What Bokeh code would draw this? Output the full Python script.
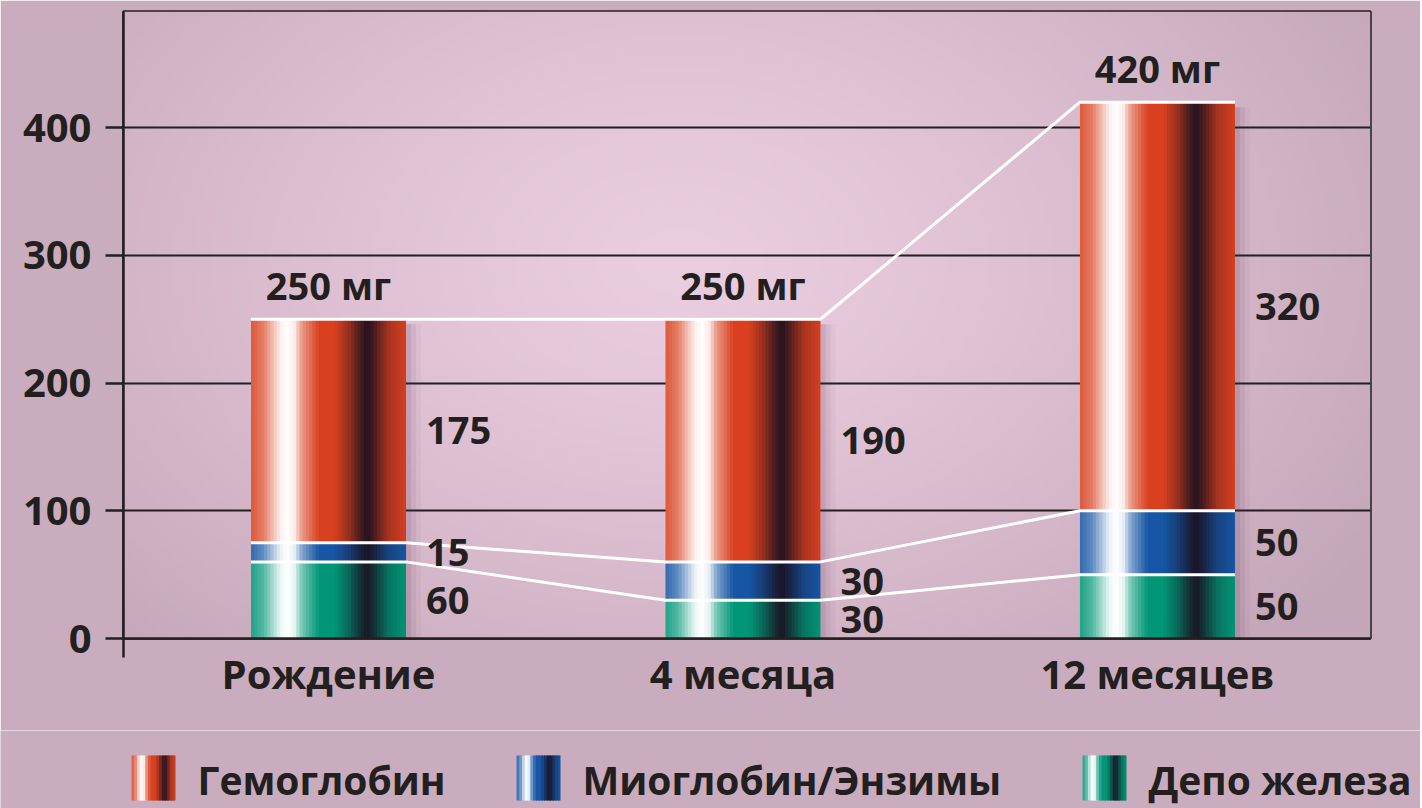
import numpy as np
from bokeh.plotting import figure
from bokeh.models import Range1d, FixedTicker, ColumnDataSource
from bokeh.layouts import column, row
from bokeh.core.properties import value
from bokeh.embed import file_html
from bokeh.resources import INLINE

# ---------------- data ----------------
categories = ["Рождение", "4 месяца", "12 месяцев"]
depot = [60, 30, 50]          # Депо железа
myoglobin = [15, 30, 50]      # Миоглобин/Энзимы
hemoglobin = [175, 190, 320]  # Гемоглобин
y_ticks = [0, 100, 200, 300, 400]
series_names = ["Гемоглобин", "Миоглобин/Энзимы", "Депо железа"]
unit = "мг"

# ---------------- style ----------------
INK = "#231f20"
FONT = "Open Sans"
BG = "#c9adbe"
BASES = {"hemo": "#d8401f", "myo": "#1656a4", "depot": "#019677"}
DARK = (26, 16, 32)

W = 1420
H_MAIN = 730
H_LEG = 78
FR_L, FR_R, FR_T, FR_B = 123, 1370, 11, 638   # frame edges in canvas px
X0, X1 = -0.4946, 2.514
Y0, Y1 = 0, 491
BAR_W = 0.374
N = 48

STOPS = [(0.0, 0.12), (0.08, 0.32), (0.19, 0.92), (0.235, 1.0), (0.28, 0.9),
         (0.33, 0.45), (0.44, 0.0), (0.54, 0.0), (0.63, -0.35), (0.71, -0.78),
         (0.75, -0.95), (0.80, -0.72), (0.89, -0.25), (1.0, -0.02)]


def hex2rgb(h):
    h = h.lstrip("#")
    return tuple(int(h[i:i + 2], 16) for i in (0, 2, 4))


def shade(base, t):
    ts = [s[0] for s in STOPS]
    a = float(np.interp(t, ts, [s[1] for s in STOPS]))
    r, g, b = hex2rgb(base)
    if a >= 0:
        c = (r + a * (255 - r), g + a * (255 - g), b + a * (255 - b))
    else:
        a = -a
        c = (r + a * (DARK[0] - r), g + a * (DARK[1] - g), b + a * (DARK[2] - b))
    return "#%02x%02x%02x" % tuple(int(round(v)) for v in c)


# ---------------- stacks ----------------
n = len(categories)
xs = list(range(n))
depot_top = [d for d in depot]
myo_top = [d + m for d, m in zip(depot, myoglobin)]
totals = [d + m + h for d, m, h in zip(depot, myoglobin, hemoglobin)]
segments = [("depot", [0] * n, depot_top, depot),
            ("myo", depot_top, myo_top, myoglobin),
            ("hemo", myo_top, totals, hemoglobin)]

stripes = dict(left=[], right=[], bottom=[], top=[], color=[])
sw = BAR_W / N
for key, bots, tops, _ in segments:
    for i in xs:
        for k in range(N):
            l = i - BAR_W / 2 + k * sw
            r = l + sw * (1.6 if k < N - 1 else 1.0)
            stripes["left"].append(l)
            stripes["right"].append(r)
            stripes["bottom"].append(bots[i])
            stripes["top"].append(tops[i])
            stripes["color"].append(shade(BASES[key], (k + 0.5) / N))

# ---------------- main figure ----------------
p = figure(width=W, height=H_MAIN, x_range=Range1d(X0, X1), y_range=Range1d(Y0, Y1),
           output_backend="svg", toolbar_location=None,
           min_border_left=FR_L, min_border_right=W - FR_R, min_border_top=FR_T,
           min_border_bottom=H_MAIN - FR_B)
p.border_fill_color = BG
p.outline_line_color = INK
p.outline_line_width = 2.5

# background gradient inside the frame
nx, ny = 300, 150
gx = np.linspace(FR_L, FR_R, nx)
gy = np.linspace(FR_B, FR_T, ny)  # row 0 = bottom
GX, GY = np.meshgrid(gx, gy)
d = np.sqrt(((GX - 680) / 820.0) ** 2 + ((GY - 260) / 560.0) ** 2)
d = np.clip(d, 0, 1) ** 1.3
c_in = np.array(hex2rgb("#ebcde0"), dtype=float)
c_out = np.array(hex2rgb("#c3a6b7"), dtype=float)
img = np.empty((ny, nx), dtype=np.uint32)
view = img.view(dtype=np.uint8).reshape((ny, nx, 4))
for ch in range(3):
    view[:, :, ch] = (c_in[ch] + (c_out[ch] - c_in[ch]) * d).astype(np.uint8)
view[:, :, 3] = 255
p.image_rgba(image=[img], x=X0, y=Y0, dw=X1 - X0, dh=Y1 - Y0, level="image")

p.xgrid.visible = False
p.ygrid.ticker = FixedTicker(ticks=y_ticks)
p.ygrid.grid_line_color = INK
p.ygrid.grid_line_width = 2

# soft shadow to the right of bars
for j, alpha in enumerate([0.10, 0.07, 0.04]):
    p.quad(left=[i + BAR_W / 2 for i in xs],
           right=[i + BAR_W / 2 + 0.012 * (j + 1) for i in xs],
           bottom=[0] * n, top=[t - 4 for t in totals],
           fill_color="#5a3050", fill_alpha=alpha, line_color=None)

src = ColumnDataSource(stripes)
p.quad(left="left", right="right", bottom="bottom", top="top",
       fill_color="color", line_color=None, source=src)

# white connector lines across stack boundaries
for level in (depot_top, myo_top, totals):
    lx, ly = [], []
    for i in xs:
        lx += [i - BAR_W / 2, i + BAR_W / 2]
        ly += [level[i], level[i]]
    p.line(lx, ly, line_color="white", line_width=3)

# segment value labels
lab_x, lab_y, lab_t = [], [], []
for key, bots, tops, vals in segments:
    for i in xs:
        lab_x.append(i + BAR_W / 2)
        lab_y.append((bots[i] + tops[i]) / 2)
        lab_t.append(str(vals[i]))
p.text(x=lab_x, y=lab_y, text=lab_t, x_offset=20,
       text_font=value(FONT), text_font_style="bold", text_font_size="38px",
       text_color=INK, text_align="left", text_baseline="middle")

# total labels
p.text(x=xs, y=totals, text=[f"{t} {unit}" for t in totals], y_offset=-8,
       text_font=value(FONT), text_font_style="bold", text_font_size="38px",
       text_color=INK, text_align="center", text_baseline="bottom")

# axes
p.yaxis.ticker = FixedTicker(ticks=y_ticks)
p.yaxis.axis_line_color = INK
p.yaxis.axis_line_width = 2.5
p.yaxis.major_tick_out = 18
p.yaxis.major_tick_in = 0
p.yaxis.major_tick_line_color = INK
p.yaxis.major_tick_line_width = 2.5
p.yaxis.minor_tick_line_color = None
p.yaxis.major_label_standoff = 14
p.yaxis.major_label_text_font = FONT
p.yaxis.major_label_text_font_style = "bold"
p.yaxis.major_label_text_font_size = "40px"
p.yaxis.major_label_text_color = INK

p.xaxis.ticker = FixedTicker(ticks=xs, minor_ticks=[X0])
p.xaxis.major_label_overrides = {i: c for i, c in zip(xs, categories)}
p.xaxis.axis_line_color = INK
p.xaxis.axis_line_width = 2.5
p.xaxis.major_tick_line_color = None
p.xaxis.major_tick_out = 0
p.xaxis.major_tick_in = 0
p.xaxis.minor_tick_out = 19
p.xaxis.minor_tick_in = 0
p.xaxis.minor_tick_line_color = INK
p.xaxis.minor_tick_line_width = 2.5
p.xaxis.major_label_standoff = -12
p.xaxis.major_label_text_font = FONT
p.xaxis.major_label_text_font_style = "bold"
p.xaxis.major_label_text_font_size = "40px"
p.xaxis.major_label_text_color = INK

# ---------------- legend figure (x, y in canvas px) ----------------
leg = figure(width=W, height=H_LEG, x_range=Range1d(0, W), y_range=Range1d(0, H_LEG),
             output_backend="svg", toolbar_location=None,
             x_axis_location=None, y_axis_location=None,
             min_border_left=0, min_border_right=0, min_border_top=0,
             min_border_bottom=0)
leg.grid.visible = False
leg.outline_line_color = None
leg.background_fill_color = BG
leg.border_fill_color = BG

swatch_x = [131, 516, 1082]
SW_W, SW_B, SW_T = 44, 8, 53
leg_keys = ["hemo", "myo", "depot"]
ls = dict(left=[], right=[], bottom=[], top=[], color=[])
M = 16
for sx, key in zip(swatch_x, leg_keys):
    for k in range(M):
        l = sx + k * SW_W / M
        ls["left"].append(l)
        ls["right"].append(l + SW_W / M * (1.6 if k < M - 1 else 1.0))
        ls["bottom"].append(SW_B)
        ls["top"].append(SW_T)
        ls["color"].append(shade(BASES[key], (k + 0.5) / M))
leg.quad(left="left", right="right", bottom="bottom", top="top",
         fill_color="color", line_color=None, source=ColumnDataSource(ls))
leg.text(x=[sx + SW_W + 22 for sx in swatch_x], y=[29] * 3, text=series_names,
         text_font=value(FONT), text_font_style="bold", text_font_size="39px",
         text_color=INK, text_align="left", text_baseline="middle")

layout = column(p, row(leg), spacing=0)
open("out.html", "w").write(file_html(layout, INLINE))
